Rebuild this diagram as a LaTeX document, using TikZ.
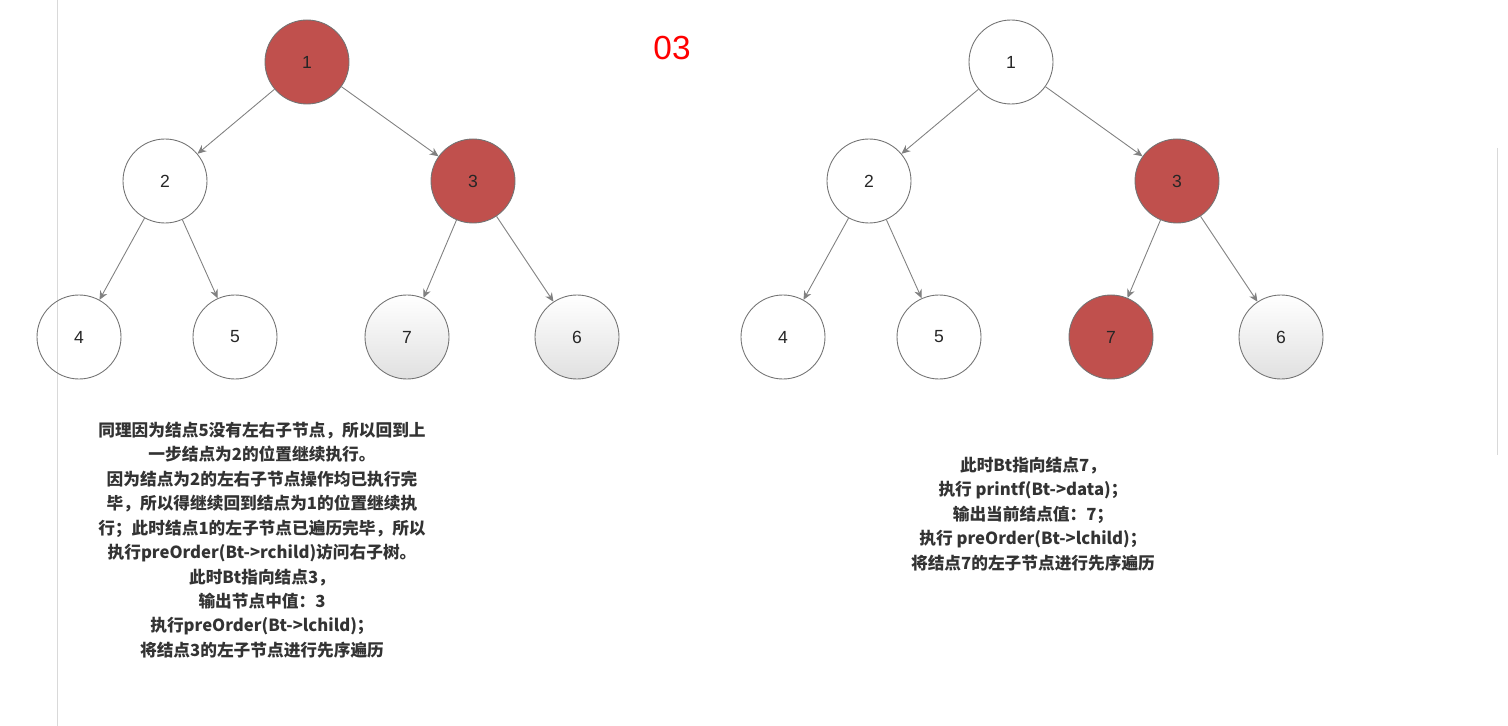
\documentclass[tikz,border=0pt]{standalone}
\usepackage{fontspec}
\setmainfont{Liberation Sans}
\newfontfamily\cjk{Noto Sans CJK SC}
\usetikzlibrary{arrows.meta}
\definecolor{redn}{HTML}{C0504D}
\tikzset{
 tn/.style={circle,draw=black!55,line width=0.5pt,minimum size=84*0.02cm,inner sep=0pt,font=\fontsize{10}{12}\selectfont,text=black!85},
 rn/.style={tn,fill=redn},
 gn/.style={tn,top color=white,bottom color=black!12},
 ed/.style={draw=black!50,line width=0.5pt,-{Stealth[length=5pt,width=4.5pt]}},
 txt/.style={align=center,font=\cjk\bfseries\fontsize{9.5}{13.9}\selectfont,text=black!80}
}
\begin{document}
\begin{tikzpicture}[x=0.02cm,y=-0.02cm]
\useasboundingbox (0,0) rectangle (1508,726);
\draw[black!15] (57,0) -- (57,726);
\draw[black!15] (1497,148) -- (1497,455);
\node[text=red,font=\fontsize{19}{22}\selectfont] (t) at (672,48) {03};
% left tree
\node[rn] (a1) at (307,62) {1};
\node[tn] (a2) at (165,181) {2};
\node[rn] (a3) at (473,181) {3};
\node[tn] (a4) at (79,337) {4};
\node[tn] (a5) at (235,337) {5};
\node[gn] (a7) at (407,337) {7};
\node[gn] (a6) at (577,337) {6};
\draw[ed] (a1) -- (a2); \draw[ed] (a1) -- (a3);
\draw[ed] (a2) -- (a4); \draw[ed] (a2) -- (a5);
\draw[ed] (a3) -- (a7); \draw[ed] (a3) -- (a6);
% right tree
\node[tn] (b1) at (1011,62) {1};
\node[tn] (b2) at (869,181) {2};
\node[rn] (b3) at (1177,181) {3};
\node[tn] (b4) at (783,337) {4};
\node[tn] (b5) at (939,337) {5};
\node[rn] (b7) at (1111,337) {7};
\node[gn] (b6) at (1281,337) {6};
\draw[ed] (b1) -- (b2); \draw[ed] (b1) -- (b3);
\draw[ed] (b2) -- (b4); \draw[ed] (b2) -- (b5);
\draw[ed] (b3) -- (b7); \draw[ed] (b3) -- (b6);
\node[txt,anchor=north] (la) at (262,416) {同理因为结点5没有左右子节点，所以回到上\\一步结点为2的位置继续执行。\\因为结点为2的左右子节点操作均已执行完\\毕，所以得继续回到结点为1的位置继续执\\行；此时结点1的左子节点已遍历完毕，所以\\执行preOrder(Bt->rchild)访问右子树。\\此时Bt指向结点3，\\输出节点中值：3\\执行preOrder(Bt->lchild)；\\将结点3的左子节点进行先序遍历};
\node[txt,anchor=north] (lb) at (1033,451) {此时Bt指向结点7，\\执行 printf(Bt->data)；\\输出当前结点值：7；\\执行 preOrder(Bt->lchild)；\\将结点7的左子节点进行先序遍历};
\end{tikzpicture}
\end{document}
